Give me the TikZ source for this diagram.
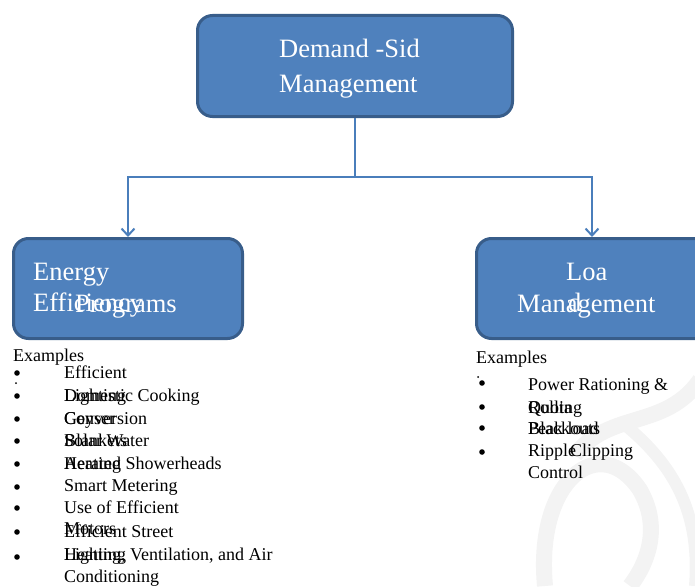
\documentclass[tikz,border=0pt]{standalone}
\usepackage{fontspec}
\setmainfont{Liberation Serif}
\usetikzlibrary{arrows.meta}
\definecolor{boxfill}{HTML}{4F81BD}
\definecolor{boxline}{HTML}{385D8A}
\definecolor{connc}{HTML}{4A7EBB}
\definecolor{wmark}{HTML}{F3F3F3}
\begin{document}
\begin{tikzpicture}[x=1pt,y=-1pt,
  box/.style={draw=boxline, line width=3pt, fill=boxfill, rounded corners=15pt, inner sep=0pt},
  boxtxt/.style={anchor=base west, inner sep=0pt, text=white, font=\fontsize{26.5}{30}\selectfont},
  listtxt/.style={anchor=base west, inner sep=0pt, font=\fontsize{18}{21}\selectfont},
  conn/.style={draw=connc, line width=2pt},
  arr/.style={-{Straight Barb[length=7pt,width=13pt,line width=2pt]}},
  bul/.style={fill=black}]
\useasboundingbox (0,0) rectangle (695,586);
\begin{scope}
\clip (0,0) rectangle (695,586);
% faint watermark
\draw[wmark, line width=16pt] (545,586) .. controls (535,480) and (600,430) .. (640,490) .. controls (660,525) and (650,560) .. (630,586);
\draw[wmark, line width=16pt] (700,380) .. controls (665,430) and (610,410) .. (575,455);
\draw[wmark, line width=12pt] (625,425) .. controls (680,470) and (700,520) .. (695,586);
% boxes
\node[box, minimum width=315pt, minimum height=101pt] (top) at (355,66) {};
\node[box, minimum width=229pt, minimum height=100pt] (lbox) at (128,288.5) {};
\node[box, minimum width=250pt, minimum height=100pt] (rbox) at (601.5,288.5) {};
\end{scope}
% connectors
\draw[conn, arr] (top.south) -- ++(0,59) -| (lbox.north);
\draw[conn, arr] (top.south) -- ++(0,59) -| ([xshift=-9.5pt]rbox.north);
% box texts
\node[boxtxt] (t1) at (279,58) {Demand -Sid};
\node[boxtxt] (t2) at (279,92) {Management};
\node[boxtxt] (t3) at (386,92) {e};
\node[boxtxt] (l1) at (33,280) {Energy};
\node[boxtxt] (l2) at (33,311) {Efficiency};
\node[boxtxt] (l3) at (75,312) {Programs};
\node[boxtxt] (r1) at (566,280) {Loa};
\node[boxtxt] (r2) at (517,312) {Management};
\node[boxtxt] (r3) at (568,311) {d};
% left list
\node[listtxt] (le) at (13,361) {Examples};
\node[listtxt] (a1) at (64,378) {Efficient};
\node[listtxt] (a2) at (64,401) {Domestic Cooking};
\node[listtxt] (a2b) at (64,401) {Lighting};
\node[listtxt] (a3) at (64,424) {Conversion};
\node[listtxt] (a3b) at (64,424) {Geyser};
\node[listtxt] (a4) at (64,446) {Solar Water};
\node[listtxt] (a4b) at (64,446) {Blankets};
\node[listtxt] (a5) at (64,469) {Aerated Showerheads};
\node[listtxt] (a5b) at (64,469) {Heating};
\node[listtxt] (a6) at (64,491) {Smart Metering};
\node[listtxt] (a7) at (64,513) {Use of Efficient};
\node[listtxt] (a8b) at (64,534) {Motors};
\node[listtxt] (a8) at (64,537) {Efficient Street};
\node[listtxt] (a9) at (64,560) {Heating, Ventilation, and Air};
\node[listtxt] (a9b) at (64,560) {Lighting};
\node[listtxt] (a10) at (64,582) {Conditioning};
\foreach \y in {373,396,419,441,464,487,508,532,557} \fill[bul] (17,\y) circle (2.8);
\fill[bul] (16,383) circle (1);
% right list
\node[listtxt] (re) at (476,363) {Examples};
\node[listtxt] (b1) at (528,390) {Power Rationing \&};
\node[listtxt] (b2) at (528,413) {Quota};
\node[listtxt] (b2b) at (528,413) {Rolling};
\node[listtxt] (b3) at (528,434) {Peak load};
\node[listtxt] (b3b) at (528,434) {Blackouts};
\node[listtxt] (b4) at (528,456) {Ripple};
\node[listtxt] (b4b) at (570,456) {Clipping};
\node[listtxt] (b5) at (528,478) {Control};
\foreach \y in {383,407,428,452} \fill[bul] (482,\y) circle (2.8);
\fill[bul] (478,377) circle (1);
\end{tikzpicture}
\end{document}
